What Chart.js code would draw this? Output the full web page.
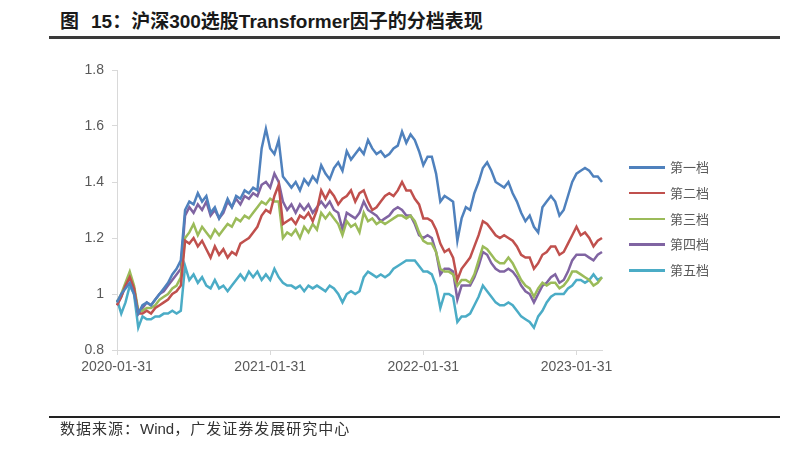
<!DOCTYPE html>
<html>
<head>
<meta charset="utf-8">
<script src="https://cdn.jsdelivr.net/npm/chart.js@4/dist/chart.umd.min.js"></script>
<style>
html,body{margin:0;padding:0;background:#fff;}
#wrap{position:relative;width:800px;height:465px;overflow:hidden;font-family:"Liberation Sans","Noto Sans CJK SC",sans-serif;}
#title{position:absolute;left:60px;top:10px;font-size:19px;font-weight:bold;color:#1a1a1a;white-space:nowrap;line-height:24px;}
#title .gap{display:inline-block;width:12px;}
#tline{position:absolute;left:49px;top:36px;width:731px;height:2.5px;background:#3a3a3a;}
#sline{position:absolute;left:49px;top:416px;width:731px;height:1.5px;background:#222;}
#source{position:absolute;left:60px;top:418px;font-size:15px;color:#333;line-height:20px;white-space:nowrap;font-family:"Noto Sans CJK SC","Liberation Sans",sans-serif;letter-spacing:1px;}
#source .w{font-family:"Liberation Sans",sans-serif;letter-spacing:0;}
canvas{position:absolute;left:0;top:0;}
#legend{position:absolute;left:629px;top:157px;}
.li{position:relative;height:25.8px;width:120px;}
.li .ln{position:absolute;left:0;top:9px;width:36px;height:2.6px;}
.li .tx{position:absolute;left:41px;top:0;font-size:13px;line-height:20px;color:#595959;font-family:"Noto Sans CJK SC",sans-serif;}
</style>
</head>
<body>
<div id="wrap">
  <div id="title">图<span class="gap"></span>15：沪深300选股Transformer因子的分档表现</div>
  <div id="tline"></div>
  <canvas id="c" width="800" height="465"></canvas>
  <div id="legend"></div>
  <div id="sline"></div>
  <div id="source">数据来源：<span class="w">Wind</span>，广发证券发展研究中心</div>
</div>
<script>
const dates = [
"2020-01-31",
"2020-02-10","2020-02-20","2020-02-29","2020-03-10","2020-03-20","2020-03-31",
"2020-04-10","2020-04-20","2020-04-30","2020-05-10","2020-05-20","2020-05-31",
"2020-06-10","2020-06-20","2020-06-30","2020-07-10","2020-07-20","2020-07-31",
"2020-08-10","2020-08-20","2020-08-31","2020-09-10","2020-09-20","2020-09-30",
"2020-10-10","2020-10-20","2020-10-31","2020-11-10","2020-11-20","2020-11-30",
"2020-12-10","2020-12-20","2020-12-31","2021-01-10","2021-01-20","2021-01-31",
"2021-02-10","2021-02-20","2021-02-28","2021-03-10","2021-03-20","2021-03-31",
"2021-04-10","2021-04-20","2021-04-30","2021-05-10","2021-05-20","2021-05-31",
"2021-06-10","2021-06-20","2021-06-30","2021-07-10","2021-07-20","2021-07-31",
"2021-08-10","2021-08-20","2021-08-31","2021-09-10","2021-09-20","2021-09-30",
"2021-10-10","2021-10-20","2021-10-31","2021-11-10","2021-11-20","2021-11-30",
"2021-12-10","2021-12-20","2021-12-31","2022-01-10","2022-01-20","2022-01-31",
"2022-02-10","2022-02-20","2022-02-28","2022-03-10","2022-03-20","2022-03-31",
"2022-04-10","2022-04-20","2022-04-30","2022-05-10","2022-05-20","2022-05-31",
"2022-06-10","2022-06-20","2022-06-30","2022-07-10","2022-07-20","2022-07-31",
"2022-08-10","2022-08-20","2022-08-31","2022-09-10","2022-09-20","2022-09-30",
"2022-10-10","2022-10-20","2022-10-31","2022-11-10","2022-11-20","2022-11-30",
"2022-12-10","2022-12-20","2022-12-31","2023-01-10","2023-01-20","2023-01-31",
"2023-02-10","2023-02-20","2023-02-28","2023-03-10","2023-03-20","2023-03-31"
];
const xTickLabels = ["2020-01-31","2021-01-31","2022-01-31","2023-01-31"];
const yTickLabels = ["0.8","1","1.2","1.4","1.6","1.8"];
const seriesNames = ["第一档","第二档","第三档","第四档","第五档"];
const seriesColors = ["#4F81BD","#C0504D","#9BBB59","#8064A2","#4BACC6"];

const tier1 = [
0.97,1.00,1.02,1.04,1.00,0.93,0.96,0.97,0.96,0.98,
1.00,1.02,1.04,1.07,1.09,1.12,1.30,1.33,1.32,1.36,
1.33,1.35,1.29,1.31,1.27,1.30,1.34,1.31,1.35,1.34,
1.37,1.36,1.38,1.37,1.52,1.59,1.52,1.50,1.55,1.42,
1.40,1.38,1.40,1.37,1.41,1.39,1.42,1.40,1.46,1.43,
1.41,1.45,1.47,1.44,1.51,1.48,1.50,1.52,1.50,1.55,
1.52,1.50,1.51,1.49,1.50,1.52,1.53,1.58,1.54,1.57,
1.55,1.51,1.46,1.49,1.49,1.43,1.33,1.35,1.34,1.33,
1.19,1.27,1.31,1.30,1.36,1.40,1.45,1.47,1.44,1.40,
1.39,1.38,1.40,1.36,1.33,1.29,1.26,1.28,1.24,1.22,
1.31,1.33,1.35,1.33,1.28,1.30,1.35,1.40,1.43,1.44,
1.45,1.44,1.42,1.42,1.40];
const tier2 = [
0.96,0.99,1.03,1.06,1.02,0.93,0.93,0.94,0.93,0.95,
0.96,0.97,0.98,1.00,1.01,1.03,1.19,1.18,1.20,1.17,
1.19,1.16,1.13,1.17,1.14,1.16,1.13,1.15,1.14,1.18,
1.19,1.20,1.22,1.24,1.28,1.30,1.29,1.35,1.39,1.25,
1.26,1.27,1.25,1.28,1.27,1.29,1.26,1.30,1.37,1.34,
1.37,1.35,1.32,1.34,1.35,1.37,1.33,1.36,1.37,1.33,
1.30,1.31,1.33,1.35,1.36,1.35,1.37,1.40,1.37,1.37,
1.34,1.32,1.27,1.27,1.26,1.23,1.18,1.15,1.16,1.13,
1.05,1.09,1.11,1.13,1.17,1.21,1.26,1.25,1.23,1.21,
1.20,1.21,1.20,1.19,1.17,1.14,1.13,1.13,1.09,1.11,
1.14,1.15,1.17,1.17,1.14,1.15,1.18,1.21,1.24,1.21,
1.22,1.20,1.17,1.19,1.20];
const tier3 = [
0.97,1.00,1.04,1.08,1.03,0.94,0.94,0.95,0.95,0.96,
0.98,0.99,1.00,1.02,1.03,1.06,1.20,1.22,1.25,1.21,
1.24,1.22,1.20,1.23,1.21,1.23,1.25,1.24,1.27,1.26,
1.28,1.27,1.29,1.31,1.33,1.32,1.34,1.33,1.33,1.20,
1.22,1.21,1.23,1.20,1.24,1.22,1.25,1.23,1.29,1.27,
1.29,1.27,1.25,1.21,1.26,1.24,1.25,1.22,1.29,1.26,
1.27,1.25,1.26,1.25,1.26,1.27,1.28,1.28,1.27,1.28,
1.26,1.22,1.19,1.18,1.18,1.15,1.09,1.08,1.08,1.07,
1.03,1.05,1.05,1.04,1.07,1.12,1.17,1.16,1.14,1.12,
1.11,1.11,1.13,1.11,1.08,1.05,1.03,1.02,0.99,1.02,
1.04,1.03,1.04,1.04,1.02,1.03,1.05,1.08,1.08,1.07,
1.06,1.05,1.03,1.04,1.06];
const tier4 = [
0.96,0.99,1.03,1.06,1.02,0.93,0.95,0.97,0.96,0.98,
1.00,1.01,1.03,1.05,1.07,1.09,1.28,1.31,1.29,1.32,
1.30,1.33,1.28,1.30,1.27,1.29,1.33,1.31,1.34,1.32,
1.35,1.34,1.36,1.35,1.39,1.40,1.38,1.43,1.40,1.33,
1.30,1.32,1.29,1.32,1.30,1.32,1.29,1.31,1.33,1.31,
1.33,1.30,1.29,1.23,1.29,1.28,1.27,1.29,1.33,1.30,
1.29,1.28,1.26,1.27,1.28,1.30,1.31,1.30,1.28,1.28,
1.25,1.21,1.20,1.21,1.20,1.15,1.07,1.09,1.09,1.08,
0.98,1.03,1.03,1.03,1.06,1.10,1.15,1.14,1.11,1.09,
1.08,1.08,1.09,1.08,1.06,1.03,1.01,1.00,0.97,1.00,
1.03,1.04,1.06,1.07,1.04,1.05,1.08,1.12,1.14,1.14,
1.14,1.13,1.12,1.14,1.15];
const tier5 = [
0.98,0.93,0.97,1.03,1.00,0.88,0.92,0.91,0.91,0.92,
0.92,0.93,0.93,0.94,0.93,0.94,1.10,1.05,1.07,1.04,
1.06,1.03,1.02,1.05,1.02,1.03,1.01,1.03,1.05,1.07,
1.05,1.08,1.06,1.08,1.05,1.07,1.05,1.09,1.06,1.04,
1.03,1.03,1.02,1.03,1.01,1.03,1.02,1.03,1.02,1.01,
1.03,1.02,1.00,0.97,1.00,1.01,1.00,1.01,1.06,1.08,
1.07,1.06,1.07,1.06,1.07,1.09,1.10,1.11,1.12,1.12,
1.12,1.10,1.08,1.08,1.07,1.03,0.95,1.00,1.00,0.99,
0.90,0.92,0.92,0.93,0.96,0.99,1.03,1.01,0.99,0.97,
0.96,0.96,0.97,0.96,0.94,0.92,0.91,0.90,0.88,0.92,
0.94,0.97,0.99,1.00,1.00,1.00,1.02,1.03,1.05,1.05,
1.04,1.05,1.07,1.05,1.06];

const seriesData = [tier1, tier2, tier3, tier4, tier5];

const legendEl = document.getElementById('legend');
seriesNames.forEach((n, i) => {
  const d = document.createElement('div'); d.className = 'li';
  const l = document.createElement('div'); l.className = 'ln'; l.style.background = seriesColors[i];
  const t = document.createElement('div'); t.className = 'tx'; t.textContent = n;
  d.appendChild(l); d.appendChild(t); legendEl.appendChild(d);
});

new Chart(document.getElementById('c'), {
  type: 'line',
  data: {
    labels: dates,
    datasets: seriesNames.map((n, i) => ({
      label: n, data: seriesData[i], borderColor: seriesColors[i],
      backgroundColor: seriesColors[i], borderWidth: 2.5, pointRadius: 0,
      tension: 0, fill: false
    }))
  },
  options: {
    responsive: false, animation: false, devicePixelRatio: 1,
    layout: { padding: { left: 0, right: 198, top: 70, bottom: 0 } },
    plugins: { legend: { display: false }, tooltip: { enabled: false } },
    scales: {
      x: {
        type: 'category', offset: false,
        afterFit(s) { s.height = 115; },
        afterBuildTicks(s) { s.ticks = s.ticks.filter(t => xTickLabels.includes(dates[t.value])); },
        ticks: { autoSkip: false, maxRotation: 0, minRotation: 0, padding: 4,
          color: '#595959', font: { size: 14, family: 'Liberation Sans' },
          callback(v) { return dates[v]; } },
        grid: { drawOnChartArea: false, drawTicks: true, tickLength: 5, color: '#d9d9d9' },
        border: { display: true, color: '#d9d9d9', width: 1 }
      },
      y: {
        min: 0.8, max: 1.8,
        afterFit(s) { s.width = 117; },
        ticks: { stepSize: 0.2, padding: 8, color: '#595959',
          font: { size: 14, family: 'Liberation Sans' },
          callback(v, i) { return yTickLabels[i]; } },
        grid: { drawOnChartArea: false, drawTicks: true, tickLength: 5, color: '#d9d9d9' },
        border: { display: true, color: '#d9d9d9', width: 1 }
      }
    }
  }
});
</script>
</body>
</html>
